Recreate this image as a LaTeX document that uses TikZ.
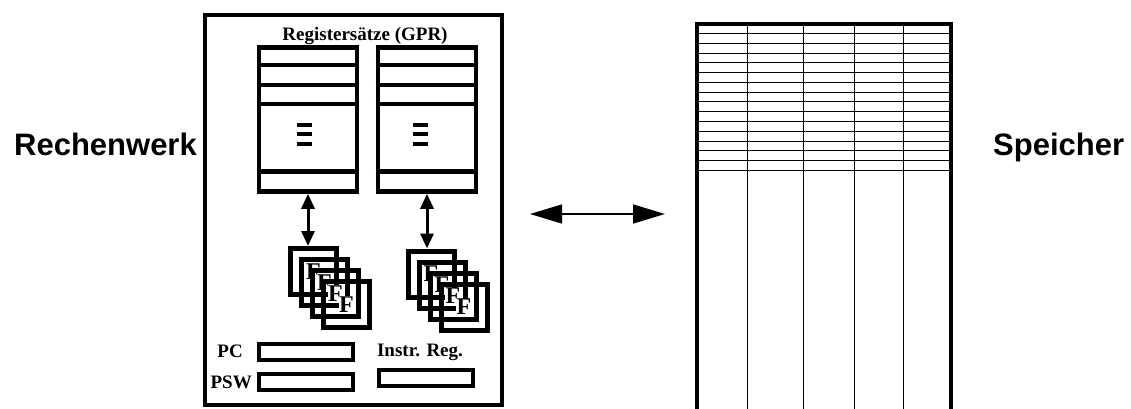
\documentclass[tikz,border=0pt]{standalone}
\usepackage{fontspec}
\setmainfont{Liberation Serif}
\setsansfont{Liberation Sans}
\usetikzlibrary{arrows.meta,positioning}

\tikzset{
  frame/.style={draw, line width=4.5pt, inner sep=0pt},
  regset/.style={frame, minimum width=98pt, minimum height=144pt},
  fbox/.style={frame, line width=5pt, minimum size=46pt},
  flabel/.style={fill=white, inner sep=0.5pt, font=\fontsize{24}{26}\selectfont\bfseries},
  smallreg/.style={draw, line width=4pt, minimum width=94pt, minimum height=16pt, inner sep=0pt},
  lbl/.style={inner sep=0pt, font=\fontsize{19}{22}\selectfont\bfseries},
  bigtxt/.style={inner sep=0pt, font=\fontsize{31}{36}\selectfont\sffamily\bfseries},
  dblarrow/.style={line width=3pt, {Triangle[length=15pt,width=13pt]}-{Triangle[length=15pt,width=13pt]}},
  busarrow/.style={line width=1.5pt, {Triangle[length=32pt,width=19pt]}-{Triangle[length=32pt,width=19pt]}},
}

\begin{document}
\begin{tikzpicture}[x=1pt, y=-1pt]
  \useasboundingbox (0,0) rectangle (1131,409);

  % Rechenwerk
  \node[frame, minimum width=297pt, minimum height=390pt] (cpu) at (353.5,210) {};
  \node[bigtxt, anchor=base east] (rw) at (197,155) {Rechenwerk};
  \node[lbl, anchor=base] (gprtxt) at (365,41) {Registersätze (GPR)};

  % register sets
  \node[regset] (gpr1) at (308,119.5) {};
  \node[regset] (gpr2) at (427,119.5) {};
  \foreach \r in {gpr1,gpr2}
    \foreach \d in {20,40,59,126}
      \draw[line width=4.5pt] ([yshift=-\d pt]\r.north west) -- ([yshift=-\d pt]\r.north east);
  \foreach \x in {297,413}
    \foreach \y in {125,134,144}
      \draw[line width=4pt] (\x,\y) -- ++(15,0);

  % functional units
  \foreach \i in {0,...,3} {
    \node[fbox] (fa\i) at (313.5+11*\i,271.5+11*\i) {};
    \node[flabel] (fat\i) at (fa\i) {F};
    \node[fbox] (fb\i) at (431+11*\i,274+11*\i) {};
    \node[flabel] (fbt\i) at (fb\i) {F};
  }
  \draw[dblarrow] (gpr1.south) -- (gpr1.south |- fa0.north);
  \draw[dblarrow] (gpr2.south) -- (gpr2.south |- fb0.north);

  % special registers
  \node[smallreg] (pc) at (306,351.5) {};
  \node[smallreg] (psw) at (306,382) {};
  \node[smallreg] (ir) at (426,378) {};
  \node[lbl, left=14pt of pc] (pctxt) {PC};
  \node[lbl, left=5pt of psw] (pswtxt) {PSW};
  \node[lbl, above=7pt of ir, xshift=-6pt] (irtxt) {Instr. Reg.};

  % bus
  \coordinate (busl) at (530,214);
  \coordinate (busr) at (665,214);
  \draw[busarrow] (busl) -- (busr);

  % Speicher
  \draw[line width=3.5pt] (697,412) -- (697,24) -- (951,24) -- (951,412);
  \foreach \x in {747,803,854,903}
    \draw[line width=1pt] (\x,24) -- (\x,412);
  \foreach \i in {1,...,15}
    \draw[line width=1pt] (697,24+9.75*\i) -- (951,24+9.75*\i);
  \node[bigtxt, anchor=base west] (mem) at (993,155) {Speicher};
\end{tikzpicture}
\end{document}
